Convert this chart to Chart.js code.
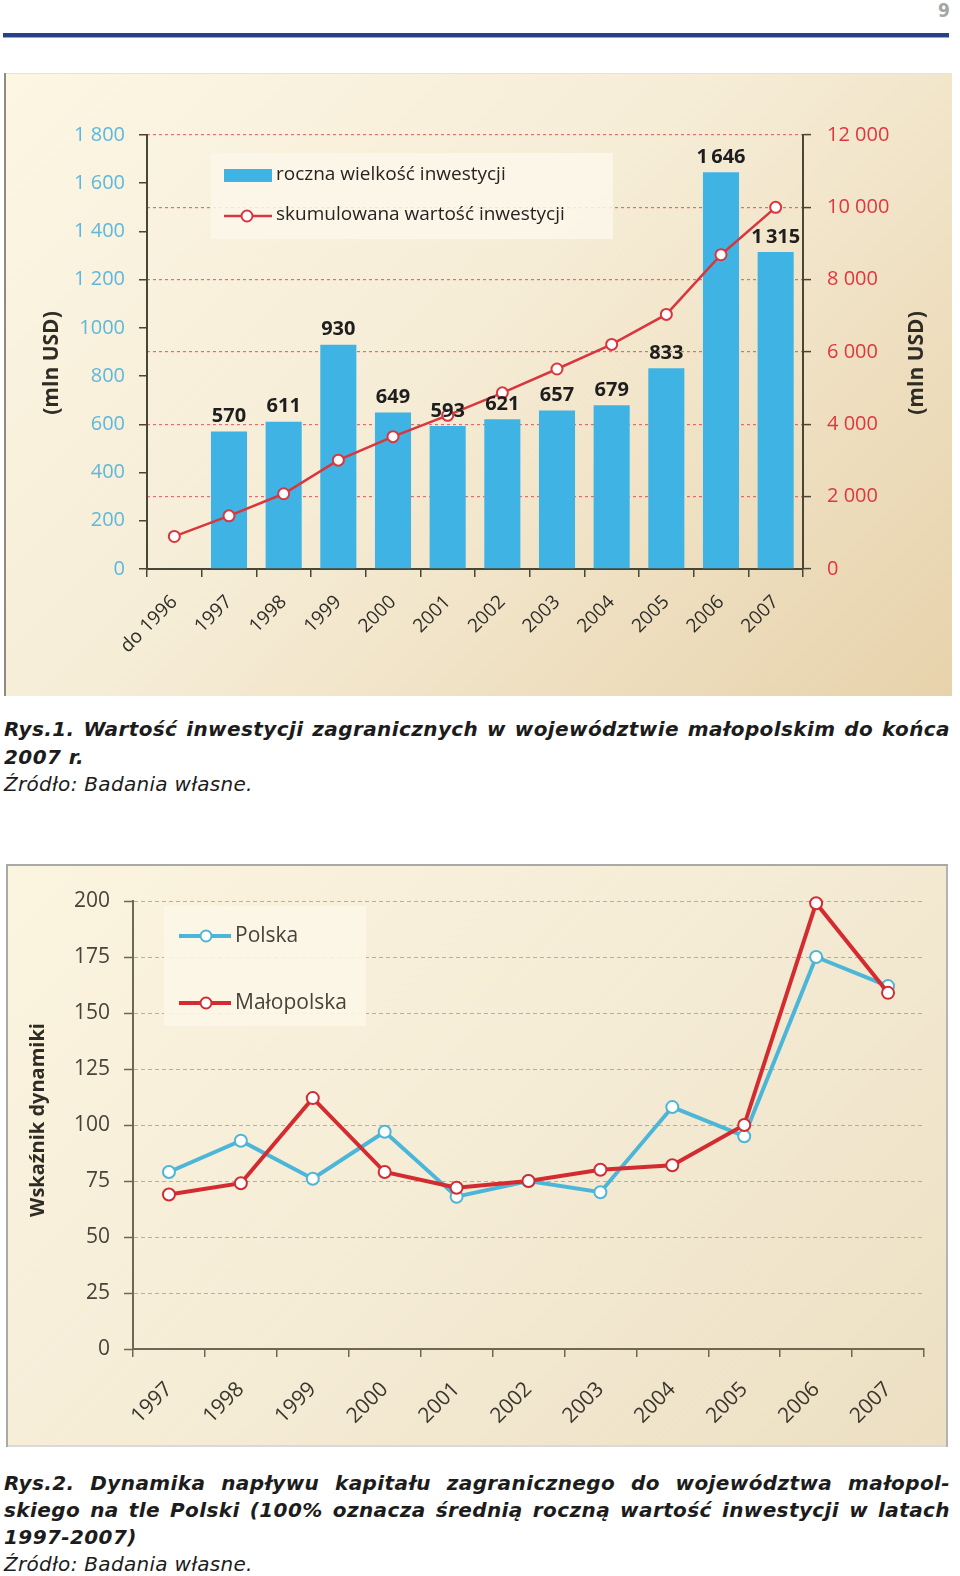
<!DOCTYPE html>
<html>
<head>
<meta charset="utf-8">
<script src="https://cdn.jsdelivr.net/npm/chart.js@4.4.1/dist/chart.umd.min.js"></script>
<style>
    body { margin: 0; width: 960px; height: 1576px; background: #fff; position: relative; overflow: hidden; }
    #pageNo { position: absolute; left: 930px; top: -1px; width: 20px; text-align: right; font: bold 19px 'DejaVu Sans Condensed', 'DejaVu Sans', sans-serif; color: #a5a5a5; }
    #rule { position: absolute; left: 3px; top: 33px; width: 946px; height: 4px; background: #27408b; border-bottom: 1px solid #93a8d6; }
    .panel { position: absolute; }
    #panel1 { left: 4px; top: 73px; width: 948px; height: 623px;
        background: linear-gradient(135deg, #fcf6e3 0%, #f6edd7 45%, #e7d2ab 100%);
        box-shadow: inset 2px 0 0 #8d8b82, inset 0 1px 0 #e6e2d6; }
    #panel2 { left: 6px; top: 864px; width: 942px; height: 583px;
        background: linear-gradient(135deg, #fbf4de 0%, #f5ecd6 50%, #ecdfc2 100%);
        box-shadow: inset 0 2px 0 #a9a9a9, inset 2px 0 0 #a9a9a9, inset -2px 0 0 #b3b3b3, inset 0 -2px 0 #d9d9d9; }
    canvas { position: absolute; left: 0; top: 0; }
    .cap { position: absolute; left: 4px; width: 946px; color: #1c1c1c; line-height: 27.5px;
        font: bold italic 20px 'DejaVu Sans', sans-serif; letter-spacing: 0.4px; }
    .cap .j { text-align: justify; text-align-last: justify; }
    .cap .src { font-weight: normal; letter-spacing: 0.3px; }
</style>
</head>
<body>
<div id="pageNo">9</div>
<div id="rule"></div>

<div class="panel" id="panel1"><canvas id="chart1" width="948" height="623"></canvas></div>
<div class="cap" style="top:716px; line-height:27.5px;">
    <div class="j">Rys.1. Wartość inwestycji zagranicznych w województwie małopolskim do końca</div>
    <div>2007 r.</div>
    <div class="src">Źródło: Badania własne.</div>
</div>

<div class="panel" id="panel2"><canvas id="chart2" width="942" height="583"></canvas></div>
<div class="cap" style="top:1470px; line-height:27px;">
    <div class="j">Rys.2. Dynamika napływu kapitału zagranicznego do województwa małopol-</div>
    <div class="j">skiego na tle Polski (100% oznacza średnią roczną wartość inwestycji w latach</div>
    <div>1997-2007)</div>
    <div class="src">Źródło: Badania własne.</div>
</div>

<script>
// Rys.1 data
const years1 = ['do 1996', '1997', '1998', '1999', '2000', '2001', '2002', '2003', '2004', '2005', '2006', '2007'];
const annualInvest = [null, 570, 611, 930, 649, 593, 621, 657, 679, 833, 1646, 1315];
const cumulativeInvest = [900, 1470, 2080, 3010, 3660, 4250, 4870, 5530, 6210, 7040, 8690, 10000];
const leftTicks1 = ['0', '200', '400', '600', '800', '1000', '1 200', '1 400', '1 600', '1 800'];
const rightTicks1 = ['0', '2 000', '4 000', '6 000', '8 000', '10 000', '12 000'];

// Rys.2 data
const years2 = ['1997', '1998', '1999', '2000', '2001', '2002', '2003', '2004', '2005', '2006', '2007'];
const polska = [79, 93, 76, 97, 68, 75, 70, 108, 95, 175, 162];
const malopolska = [69, 74, 112, 79, 72, 75, 80, 82, 100, 199, 159];
const ticks2 = ['0', '25', '50', '75', '100', '125', '150', '175', '200'];

const FONT = 'Open Sans';
const AXIS_DARK = '#4a4636';
const BLUE1 = '#3fb4e4';
const RED1 = '#d9363e';
const BLUE2 = '#4cb6d8';
const RED2 = '#d42b31';

const fmt = v => v >= 1000 ? Math.floor(v / 1000) + '\u2009' + String(v % 1000).padStart(3, '0') : String(v);

function drawMarker(ctx, x, y, color, r) {
    ctx.beginPath();
    ctx.arc(x, y, r, 0, Math.PI * 2);
    ctx.fillStyle = '#fff';
    ctx.fill();
    ctx.lineWidth = 2;
    ctx.strokeStyle = color;
    ctx.stroke();
}

function drawVTitle(ctx, text, x, y, size) {
    ctx.save();
    ctx.translate(x, y);
    ctx.rotate(-Math.PI / 2);
    ctx.font = `bold ${size}px "${FONT}"`;
    ctx.fillStyle = '#2f2c25';
    ctx.textAlign = 'center';
    ctx.textBaseline = 'middle';
    ctx.fillText(text, 0, 0);
    ctx.restore();
}

// chart 1 extras: legend box, bar values, axis titles
const extras1 = {
    id: 'extras1',
    beforeDatasetsDraw(chart) {
        const ctx = chart.ctx;
        ctx.save();
        ctx.fillStyle = 'rgba(251,247,234,0.85)';
        ctx.fillRect(207, 80, 402, 86);

        ctx.fillStyle = BLUE1;
        ctx.fillRect(220, 96, 48, 13);

        ctx.strokeStyle = RED1;
        ctx.lineWidth = 2.5;
        ctx.beginPath();
        ctx.moveTo(220, 143);
        ctx.lineTo(268, 143);
        ctx.stroke();
        drawMarker(ctx, 243, 143, RED1, 5.5);

        ctx.font = `19px "${FONT}"`;
        ctx.fillStyle = '#262420';
        ctx.textBaseline = 'middle';
        ctx.textAlign = 'left';
        ctx.fillText('roczna wielkość inwestycji', 272, 102);
        ctx.fillText('skumulowana wartość inwestycji', 272, 142);
        ctx.restore();
    },
    afterDraw(chart) {
        const ctx = chart.ctx;
        const meta = chart.getDatasetMeta(0);
        ctx.save();
        ctx.font = `bold 20px "${FONT}"`;
        ctx.fillStyle = '#1e1e1e';
        ctx.textAlign = 'center';
        ctx.textBaseline = 'bottom';
        meta.data.forEach((bar, i) => {
            const v = annualInvest[i];
            if (v == null) return;
            ctx.fillText(fmt(v), bar.x, bar.y - 5);
        });
        ctx.restore();
        drawVTitle(ctx, '(mln USD)', 48, 290, 21);
        drawVTitle(ctx, '(mln USD)', 913, 290, 21);
    }
};

new Chart(document.getElementById('chart1'), {
    type: 'bar',
    data: {
        labels: years1,
        datasets: [
            {
                label: 'roczna wielkość inwestycji',
                data: annualInvest,
                backgroundColor: BLUE1,
                yAxisID: 'y',
                order: 1,
                categoryPercentage: 1,
                barPercentage: 0.66
            },
            {
                type: 'line',
                label: 'skumulowana wartość inwestycji',
                data: cumulativeInvest,
                yAxisID: 'y1',
                borderColor: RED1,
                borderWidth: 2.5,
                pointRadius: 5.5,
                pointBorderWidth: 2,
                pointBackgroundColor: '#fff',
                pointBorderColor: RED1,
                clip: false,
                order: 0
            }
        ]
    },
    options: {
        responsive: false,
        animation: false,
        layout: { padding: { top: 62, left: 0, right: 0, bottom: 0 } },
        plugins: { legend: { display: false }, tooltip: { enabled: false } },
        scales: {
            x: {
                ticks: { color: '#2e2d29', font: { family: FONT, size: 19 }, minRotation: 45, maxRotation: 45, padding: 14 },
                grid: { offset: true, drawOnChartArea: false, tickLength: 8, tickColor: AXIS_DARK, lineWidth: 1.5 },
                border: { color: AXIS_DARK, width: 2 },
                afterFit(s) { s.height = 127; }
            },
            y: {
                position: 'left',
                min: 0, max: 1800,
                ticks: { stepSize: 200, color: '#5cb8dd', font: { family: FONT, size: 20 }, padding: 14,
                    callback: (v, i) => leftTicks1[i] },
                grid: { drawOnChartArea: false, tickLength: 8, tickColor: AXIS_DARK, lineWidth: 1.5 },
                border: { color: AXIS_DARK, width: 2 },
                afterFit(s) { s.width = 143; }
            },
            y1: {
                position: 'right',
                min: 0, max: 12000,
                ticks: { stepSize: 2000, color: '#e0363e', font: { family: FONT, size: 20 }, padding: 16,
                    callback: (v, i) => rightTicks1[i] },
                grid: { color: 'rgba(212,72,72,0.75)', lineWidth: 1.2, tickLength: 8, tickColor: AXIS_DARK, tickWidth: 1.5 },
                border: { color: AXIS_DARK, width: 2, dash: [3, 3] },
                afterFit(s) { s.width = 149; }
            }
        }
    },
    plugins: [extras1]
});

// chart 2 extras: legend box, axis title
const extras2 = {
    id: 'extras2',
    beforeDatasetsDraw(chart) {
        const ctx = chart.ctx;
        ctx.save();
        ctx.fillStyle = 'rgba(251,246,230,0.9)';
        ctx.fillRect(158, 42, 202, 120);

        const rows = [[BLUE2, 'Polska', 72], [RED2, 'Małopolska', 139]];
        rows.forEach(([c, t, y]) => {
            ctx.strokeStyle = c;
            ctx.lineWidth = 4;
            ctx.beginPath();
            ctx.moveTo(173, y);
            ctx.lineTo(225, y);
            ctx.stroke();
            drawMarker(ctx, 200, y, c, 5.5);
            ctx.font = `21px "${FONT}"`;
            ctx.fillStyle = '#47433a';
            ctx.textAlign = 'left';
            ctx.textBaseline = 'middle';
            ctx.fillText(t, 229, y);
        });
        ctx.restore();
    },
    afterDraw(chart) {
        drawVTitle(chart.ctx, 'Wskaźnik dynamiki', 32, 256, 20);
    }
};

const AXIS2 = '#6e6752';

new Chart(document.getElementById('chart2'), {
    type: 'line',
    data: {
        labels: years2,
        datasets: [
            {
                label: 'Polska',
                data: polska,
                borderColor: BLUE2,
                borderWidth: 4,
                pointRadius: 6,
                pointBorderWidth: 2,
                pointBackgroundColor: '#fff',
                pointBorderColor: BLUE2,
                clip: false,
                order: 1
            },
            {
                label: 'Małopolska',
                data: malopolska,
                borderColor: RED2,
                borderWidth: 4,
                pointRadius: 6,
                pointBorderWidth: 2,
                pointBackgroundColor: '#fff',
                pointBorderColor: RED2,
                clip: false,
                order: 0
            }
        ]
    },
    options: {
        responsive: false,
        animation: false,
        layout: { padding: { top: 37, left: 0, right: 24, bottom: 0 } },
        plugins: { legend: { display: false }, tooltip: { enabled: false } },
        scales: {
            x: {
                offset: true,
                ticks: { color: '#3a362d', font: { family: FONT, size: 21 }, minRotation: 45, maxRotation: 45, padding: 20 },
                grid: { offset: true, drawOnChartArea: false, tickLength: 8, tickColor: AXIS2, lineWidth: 1.5 },
                border: { color: AXIS2, width: 2 },
                afterFit(s) { s.height = 98; }
            },
            y: {
                min: 0, max: 200,
                ticks: { stepSize: 25, color: '#47433a', font: { family: FONT, size: 21 }, padding: 14,
                    callback: (v, i) => ticks2[i] },
                grid: { color: 'rgba(160,154,138,0.75)', lineWidth: 1, tickLength: 9, tickColor: AXIS2, tickWidth: 1.5 },
                border: { color: AXIS2, width: 2, dash: [4, 3] },
                afterFit(s) { s.width = 127; }
            }
        }
    },
    plugins: [extras2]
});
</script>
</body>
</html>
